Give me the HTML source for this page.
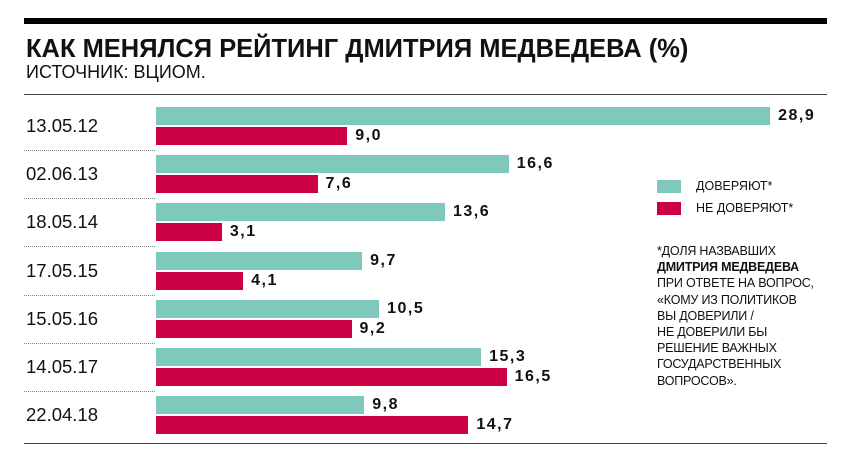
<!DOCTYPE html>
<html><head><meta charset="utf-8"><style>
body{margin:0;width:854px;height:469px;background:#fff;position:relative;overflow:hidden;font-family:"Liberation Sans",sans-serif;color:#111}
.a{position:absolute}
.bar{position:absolute;left:156px;height:18px}
.t{background:#7fc8bc}.r{background:#cc0044}
.v{position:absolute;font-weight:bold;font-size:16px;letter-spacing:1.5px;line-height:18px}
.d{position:absolute;left:26px;font-size:18.5px}
.sep{position:absolute;left:24px;width:131px;border-top:1px dotted #888}
.fn{position:absolute;left:657px;top:243px;font-size:12.5px;line-height:16.2px;letter-spacing:-0.2px}
</style></head><body>
<div class="a" style="left:24px;top:18px;width:803px;height:6px;background:#000"></div>
<div class="a" style="left:26px;top:33px;font-size:26px;font-weight:bold;letter-spacing:0px;transform:scaleX(0.98);transform-origin:left">КАК МЕНЯЛСЯ РЕЙТИНГ ДМИТРИЯ МЕДВЕДЕВА (%)</div>
<div class="a" style="left:26px;top:62px;font-size:18px">ИСТОЧНИК: ВЦИОМ.</div>
<div class="a" style="left:24px;top:94px;width:803px;height:1px;background:#444"></div>
<div class="a" style="left:24px;top:443px;width:803px;height:1px;background:#444"></div>
<div id="rows"></div>
<div class="a t" style="left:657px;top:180px;width:24px;height:13px"></div>
<div class="a" style="left:696px;top:179px;font-size:12.5px">ДОВЕРЯЮТ*</div>
<div class="a r" style="left:657px;top:202px;width:24px;height:13px"></div>
<div class="a" style="left:696px;top:201px;font-size:12.5px">НЕ ДОВЕРЯЮТ*</div>
<div class="fn">*ДОЛЯ НАЗВАВШИХ<br><b>ДМИТРИЯ МЕДВЕДЕВА</b><br>ПРИ ОТВЕТЕ НА ВОПРОС,<br>«КОМУ ИЗ ПОЛИТИКОВ<br>ВЫ ДОВЕРИЛИ /<br>НЕ ДОВЕРИЛИ БЫ<br>РЕШЕНИЕ ВАЖНЫХ<br>ГОСУДАРСТВЕННЫХ<br>ВОПРОСОВ».</div>
<script>
var d=[["13.05.12",28.9,9.0],["02.06.13",16.6,7.6],["18.05.14",13.6,3.1],["17.05.15",9.7,4.1],["15.05.16",10.5,9.2],["14.05.17",15.3,16.5],["22.04.18",9.8,14.7]];
var h="",k=21.25;
d.forEach(function(r,i){var y=107+i*48.2;
var w1=r[1]*k,w2=r[2]*k;
h+='<div class="bar t" style="top:'+y+'px;width:'+w1+'px"></div>';
h+='<div class="bar r" style="top:'+(y+20)+'px;width:'+w2+'px"></div>';
h+='<div class="v" style="top:'+y+'px;left:'+(156+w1+8)+'px">'+r[1].toFixed(1).replace(".",",")+'</div>';
h+='<div class="v" style="top:'+(y+20)+'px;left:'+(156+w2+8)+'px">'+r[2].toFixed(1).replace(".",",")+'</div>';
h+='<div class="d" style="top:'+(y+8)+'px">'+r[0]+'</div>';
if(i<6)h+='<div class="sep" style="top:'+(y+43)+'px"></div>';
});
document.getElementById("rows").innerHTML=h;
</script>
</body></html>
